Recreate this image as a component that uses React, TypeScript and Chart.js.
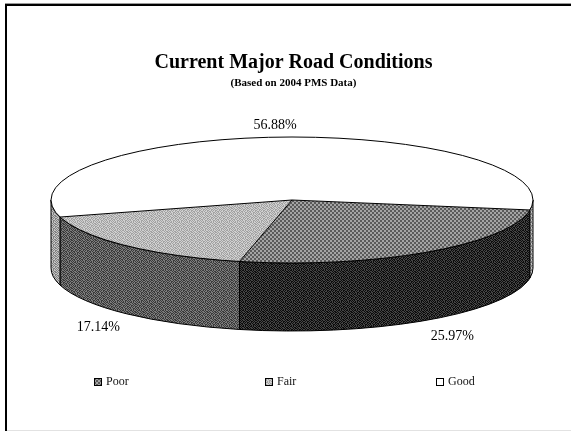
import React, { useEffect, useRef } from "react";
import { Chart, registerables } from "chart.js";

Chart.register(...registerables);

const categories = ["Poor", "Fair", "Good"];
const shares = [25.97, 17.14, 56.88];
const titleText = "Current Major Road Conditions";
const subtitleText = "(Based on 2004 PMS Data)";

const SERIF = "'Liberation Serif', 'Times New Roman', serif";
const PIE = { cx: 292, cy: 200, rx: 241, ry: 63, depth: 68 };
const LABEL_OFFSETS = [[25, 84], [-28, 82], [-3, -12]];
const LEGEND = { x: 94, y: 382, step: 171, box: 8, gap: 4 };

function tile(rows: string[], dark: string, light: string) {
  const c = document.createElement("canvas");
  c.width = rows[0].length;
  c.height = rows.length;
  const g = c.getContext("2d")!;
  rows.forEach((row, y) => {
    [...row].forEach((ch, x) => {
      g.fillStyle = ch === "#" ? dark : light;
      g.fillRect(x, y, 1, 1);
    });
  });
  return g.createPattern(c, "repeat")!;
}

const CHECK = ["##..##..", "##..##..", "..##..##", "..##..##", "##..##..", "##..##..", "..##..##", "..##..##"];
const SPECK = ["#.#..#.#", ".#.##.#.", "#..#.#.#", ".##.#..#", "#.#..##.", ".#.#.#.#", "#.##.#..", ".#..#.##"];

const plugin3d = {
  id: "pie3d",
  beforeDatasetsDraw(chart: any) {
    const ctx = chart.ctx;
    const arcs = chart.getDatasetMeta(0).data;
    const { x, y, outerRadius } = arcs[0];
    const { cx, cy, rx, ry, depth } = PIE;
    const sx = rx / outerRadius;
    const sy = ry / outerRadius;
    const ds = chart.data.datasets[0];

    arcs.forEach((arc: any, i: number) => {
      for (let k = -1; k <= 2; k++) {
        const lo = Math.max(arc.startAngle, k * 2 * Math.PI);
        const hi = Math.min(arc.endAngle, k * 2 * Math.PI + Math.PI);
        if (hi <= lo) continue;
        ctx.beginPath();
        ctx.ellipse(cx, cy, rx, ry, 0, lo, hi);
        ctx.ellipse(cx, cy + depth, rx, ry, 0, hi, lo, true);
        ctx.closePath();
        ctx.fillStyle = ds.sidePatterns[i];
        ctx.fill();
        ctx.strokeStyle = "#000";
        ctx.lineWidth = 1;
        ctx.stroke();
      }
    });

    const inverse = new DOMMatrix().translate(x, y).scale(1 / sx, 1 / sy).translate(-cx, -cy);
    ds.backgroundColor.forEach((p: any) => {
      if (typeof p !== "string") p.setTransform(inverse);
    });
    ctx.save();
    ctx.translate(cx, cy);
    ctx.scale(sx, sy);
    ctx.translate(-x, -y);
  },
  afterDatasetsDraw(chart: any) {
    const ctx = chart.ctx;
    ctx.restore();
    const arcs = chart.getDatasetMeta(0).data;
    const { cx, cy, rx, ry } = PIE;
    const ds = chart.data.datasets[0];
    ds.backgroundColor.forEach((p: any) => {
      if (typeof p !== "string") p.setTransform(new DOMMatrix());
    });

    ctx.strokeStyle = "#000";
    ctx.lineWidth = 1;
    ctx.beginPath();
    ctx.ellipse(cx, cy, rx, ry, 0, 0, Math.PI * 2);
    ctx.stroke();
    arcs.forEach((arc: any) => {
      ctx.beginPath();
      ctx.moveTo(cx, cy);
      ctx.lineTo(cx + rx * Math.cos(arc.startAngle), cy + ry * Math.sin(arc.startAngle));
      ctx.stroke();
    });

    ctx.fillStyle = "#000";
    ctx.textAlign = "center";
    ctx.textBaseline = "middle";
    ctx.font = `14px ${SERIF}`;
    arcs.forEach((arc: any, i: number) => {
      const mid = (arc.startAngle + arc.endAngle) / 2;
      const [dx, dy] = LABEL_OFFSETS[i];
      ctx.fillText(
        `${ds.data[i].toFixed(2)}%`,
        cx + rx * Math.cos(mid) + dx,
        cy + ry * Math.sin(mid) + dy
      );
    });

    ctx.textAlign = "left";
    ctx.font = `12px ${SERIF}`;
    chart.data.labels.forEach((label: string, i: number) => {
      const bx = LEGEND.x + i * LEGEND.step;
      const by = LEGEND.y - LEGEND.box / 2;
      ctx.fillStyle = ds.backgroundColor[i];
      ctx.fillRect(bx, by, LEGEND.box, LEGEND.box);
      ctx.strokeStyle = "#000";
      ctx.strokeRect(bx + 0.5, by + 0.5, LEGEND.box - 1, LEGEND.box - 1);
      ctx.fillStyle = "#111";
      ctx.fillText(label, bx + LEGEND.box + LEGEND.gap, LEGEND.y);
    });
  },
};

const rule = (s: React.CSSProperties): React.CSSProperties => ({ position: "absolute", ...s });

export default function App() {
  const ref = useRef<HTMLCanvasElement>(null);
  useEffect(() => {
    const topFaces = [tile(CHECK, "#5a5a5a", "#a4a4a4"), tile(SPECK, "#a2a2a2", "#d0d0d0"), "#ffffff"];
    const sideFaces = [tile(SPECK, "#0c0c0c", "#444444"), tile(SPECK, "#3a3a3a", "#7c7c7c"), tile(SPECK, "#808080", "#c4c4c4")];
    const chart = new Chart(ref.current!, {
      type: "pie",
      data: {
        labels: categories,
        datasets: [
          {
            data: shares,
            backgroundColor: topFaces,
            borderWidth: 0,
            clip: false,
            sidePatterns: sideFaces,
          } as any,
        ],
      },
      options: {
        responsive: false,
        animation: false,
        devicePixelRatio: 1,
        rotation: 99.1,
        layout: { padding: { top: 50, left: 16, right: 0, bottom: 0 } },
        plugins: {
          legend: { display: false },
          tooltip: { enabled: false },
          title: {
            display: true,
            text: titleText,
            color: "#000",
            font: { family: SERIF, size: 20, weight: "bold", lineHeight: 1 },
            padding: { top: 3, bottom: 5 },
          },
          subtitle: {
            display: true,
            text: subtitleText,
            color: "#000",
            font: { family: SERIF, size: 11, weight: "bold", lineHeight: 1 },
            padding: { top: 0, bottom: 0 },
          },
        },
      },
      plugins: [plugin3d],
    });
    return () => chart.destroy();
  }, []);
  return (
    <div style={{ position: "fixed", left: 0, top: 0, width: 571, height: 431, background: "#fff", overflow: "hidden" }}>
      <canvas ref={ref} width={571} height={431} style={{ position: "absolute", left: 0, top: 0 }} />
      <div style={rule({ left: 5, right: 0, top: 3, height: 1, background: "#999" })} />
      <div style={rule({ left: 5, right: 0, top: 4, height: 2, background: "#000" })} />
      <div style={rule({ left: 5, top: 4, bottom: 0, width: 2, background: "#000" })} />
      <div style={rule({ left: 7, right: 0, top: 430, height: 1, background: "#e2e2e2" })} />
    </div>
  );
}
